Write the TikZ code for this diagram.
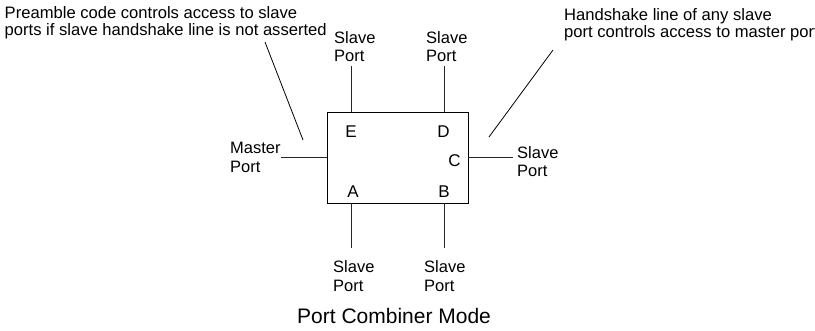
\documentclass[tikz,border=0pt]{standalone}
\usepackage{fontspec}
\setmainfont{Liberation Sans}
\begin{document}
\begin{tikzpicture}[x=1pt,y=-1pt,
  lbl/.style={inner sep=0pt,anchor=base west,align=left,font=\fontsize{16.5}{18.5}\selectfont},
  note/.style={inner sep=0pt,anchor=base west,align=left,font=\fontsize{16.6}{17}\selectfont},
  letter/.style={inner sep=0pt,anchor=base,font=\fontsize{17}{17}\selectfont},
  wire/.style={line width=0.9pt,draw=black!85},
  lead/.style={line width=0.8pt,draw=black}]
\useasboundingbox (0,0) rectangle (815,330);
\clip (0,0) rectangle (815,330);
\node[draw,line width=0.9pt,minimum width=141pt,minimum height=91pt,inner sep=0pt] (box) at (397.5,157.5) {};
\node[letter] (E) at (351,137) {E};
\node[letter] (D) at (443.5,137) {D};
\node[letter] (C) at (454.5,166) {C};
\node[letter] (A) at (353,197) {A};
\node[letter] (B) at (444,197) {B};
% port stubs
\coordinate (eT) at (351,66);
\coordinate (dT) at (444,66);
\coordinate (aB) at (351,248);
\coordinate (bB) at (444,248);
\coordinate (mL) at (281,157);
\coordinate (cR) at (513,157);
\draw[wire] (eT) -- (eT |- box.north);
\draw[wire] (dT) -- (dT |- box.north);
\draw[wire] (aB) -- (aB |- box.south);
\draw[wire] (bB) -- (bB |- box.south);
\draw[wire] (mL) -- (mL -| box.west);
\draw[wire] (cR) -- (cR -| box.east);
% leader lines
\coordinate (l1) at (265,42);
\coordinate (l2) at (303,140);
\coordinate (r1) at (553,50);
\coordinate (r2) at (489,137);
\draw[lead] (l1) -- (l2);
\draw[lead] (r1) -- (r2);
% labels (anchor = baseline of last line)
\node[note] (pre) at (4.5,35) {Preamble code controls access to slave\\ports if slave handshake line is not asserted};
\node[note] (hs) at (564,37) {Handshake line of any slave\\port controls access to master port};
\node[lbl,font=\fontsize{16.5}{18}\selectfont] (sp1) at (334,61) {Slave\\Port};
\node[lbl,font=\fontsize{16.5}{18}\selectfont] (sp2) at (426,61) {Slave\\Port};
\node[lbl,font=\fontsize{16.5}{19}\selectfont] (mp) at (230,172) {Master\\Port};
\node[lbl,font=\fontsize{16.5}{18}\selectfont] (sp3) at (517,176) {Slave\\Port};
\node[lbl,font=\fontsize{16.5}{19}\selectfont] (sp4) at (333,291) {Slave\\Port};
\node[lbl,font=\fontsize{16.5}{19}\selectfont] (sp5) at (424,291) {Slave\\Port};
\node[inner sep=0pt,anchor=base west,font=\fontsize{21}{21}\selectfont] (cap) at (297,323) {Port Combiner Mode};
\end{tikzpicture}
\end{document}
